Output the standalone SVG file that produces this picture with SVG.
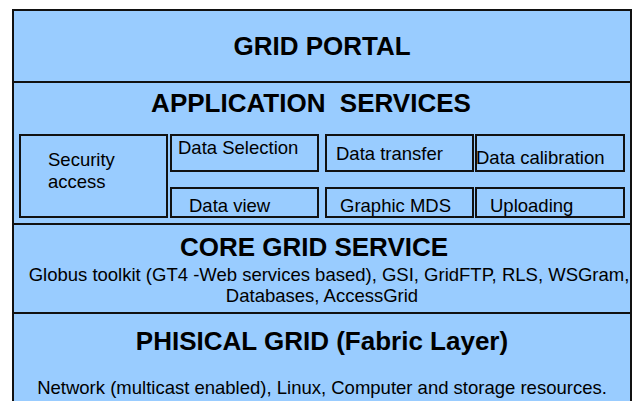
<svg xmlns="http://www.w3.org/2000/svg" width="634" height="401" viewBox="0 0 634 401">
<style>
.layer{fill:#99ccff;stroke:#111;stroke-width:2}
.box{fill:#99ccff;stroke:#111;stroke-width:2}
.h{font-family:"Liberation Sans",Arial,sans-serif;font-weight:bold;font-size:26px;fill:#000;text-anchor:middle}
.t{font-family:"Liberation Sans",Arial,sans-serif;font-size:18.5px;fill:#000}
.c{text-anchor:middle}
</style>
<rect width="634" height="401" fill="#fff"/>
<g id="physical-grid">
<rect class="layer" x="13" y="313" width="618" height="100"/>
<text class="h" x="322" y="350">PHISICAL GRID (Fabric Layer)</text>
<text class="t c" x="322" y="394">Network (multicast enabled), Linux, Computer and storage resources.</text>
</g>
<g id="core-grid-service">
<rect class="layer" x="13" y="224" width="618" height="89"/>
<text class="h" x="314" y="256">CORE GRID SERVICE</text>
<text class="t c" x="329" y="281">Globus toolkit (GT4 -Web services based), GSI, GridFTP, RLS, WSGram,</text>
<text class="t c" x="322" y="302">Databases, AccessGrid</text>
</g>
<g id="application-services">
<rect class="layer" x="13" y="82" width="618" height="142"/>
<text class="h" x="311" y="112" xml:space="preserve">APPLICATION  SERVICES</text>
</g>
<g id="grid-portal">
<rect class="layer" x="13" y="10" width="618" height="72"/>
<text class="h" x="322" y="55">GRID PORTAL</text>
</g>
<g id="security-access">
<rect class="box" x="20" y="135" width="147" height="82"/>
<text class="t" x="48" y="166">Security</text>
<text class="t" x="48" y="188">access</text>
</g>
<g id="data-selection">
<rect class="box" x="171" y="135" width="147" height="36"/>
<text class="t" x="178" y="154">Data Selection</text>
</g>
<g id="data-transfer">
<rect class="box" x="326" y="135" width="147" height="36"/>
<text class="t" x="336" y="160">Data transfer</text>
</g>
<g id="data-calibration">
<rect class="box" x="476" y="135" width="148" height="36"/>
<text class="t" x="476" y="164">Data calibration</text>
</g>
<g id="data-view">
<rect class="box" x="171" y="188" width="147" height="29"/>
<text class="t" x="189" y="212">Data view</text>
</g>
<g id="graphic-mds">
<rect class="box" x="326" y="188" width="147" height="29"/>
<text class="t" x="340" y="212">Graphic MDS</text>
</g>
<g id="uploading">
<rect class="box" x="476" y="188" width="148" height="29"/>
<text class="t" x="490" y="212">Uploading</text>
</g>
<g id="connectors"></g>
</svg>
